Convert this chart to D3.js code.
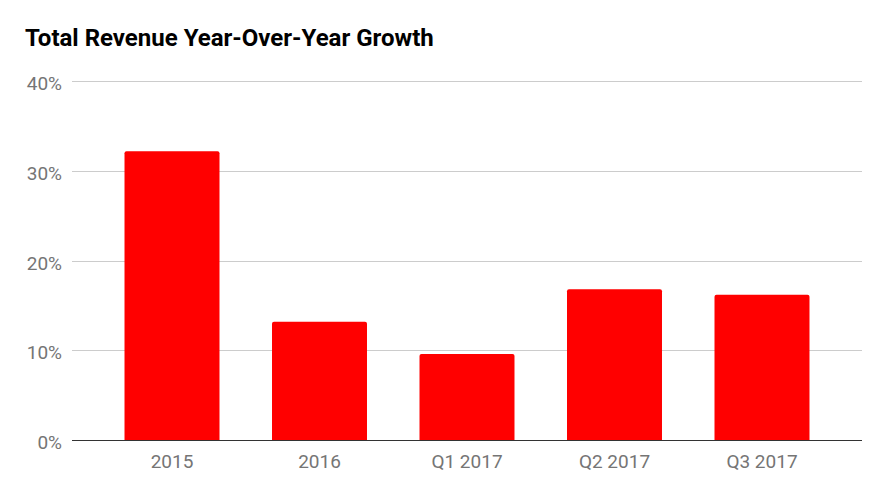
<!DOCTYPE html>
<html><head><meta charset="utf-8">
<script src="https://cdn.jsdelivr.net/npm/d3@7"></script>
<style>body{margin:0;background:#fff}svg{display:block}</style>
</head><body>
<svg id="c" width="886" height="499"></svg>
<script>
const categories = ["2015", "2016", "Q1 2017", "Q2 2017", "Q3 2017"];
const values = [32.2, 13.2, 9.6, 16.8, 16.2];
const yTicks = [0, 10, 20, 30, 40];
const title = "Total Revenue Year-Over-Year Growth";

(function () {
const svg = d3.select("#c");
const mLeft = 72, mRight = 862, mTop = 81.3, mBottom = 440;
const x = d3.scaleBand().domain(categories).range([mLeft, mRight]).padding(0.356);
const y = d3.scaleLinear().domain([0, 40]).range([mBottom, mTop]);

svg.append("text").attr("x", 25).attr("y", 46)
  .attr("font-family", "Roboto").attr("font-weight", "bold").attr("font-size", 24)
  .attr("fill", "#000").text(title);

const g = svg.append("g");
g.selectAll("line.grid").data(yTicks.filter(d => d > 0)).join("line")
  .attr("x1", mLeft).attr("x2", mRight)
  .attr("y1", d => Math.round(y(d)) + 0.5).attr("y2", d => Math.round(y(d)) + 0.5)
  .attr("stroke", "#cccccc").attr("stroke-width", 1);

g.selectAll("text.yt").data(yTicks).join("text")
  .attr("x", 62).attr("y", d => y(d) + 9)
  .attr("text-anchor", "end").attr("font-family", "Roboto").attr("font-size", 19)
  .attr("fill", "#757575").text(d => d + "%");

g.selectAll("path.bar").data(values).join("path")
  .attr("fill", "#ff0000")
  .attr("d", (d, i) => {
    const x0 = x(categories[i]), w = x.bandwidth(), y0 = y(d), r = 2;
    return `M${x0},${mBottom}V${y0 + r}Q${x0},${y0} ${x0 + r},${y0}H${x0 + w - r}Q${x0 + w},${y0} ${x0 + w},${y0 + r}V${mBottom}Z`;
  });

g.append("line").attr("x1", mLeft).attr("x2", mRight)
  .attr("y1", mBottom + 0.5).attr("y2", mBottom + 0.5)
  .attr("stroke", "#333333").attr("stroke-width", 1);

g.selectAll("text.xt").data(categories).join("text")
  .attr("x", d => x(d) + x.bandwidth() / 2).attr("y", 468)
  .attr("text-anchor", "middle").attr("font-family", "Roboto").attr("font-size", 19)
  .attr("fill", "#757575").text(d => d);
})();
</script>
</body></html>
